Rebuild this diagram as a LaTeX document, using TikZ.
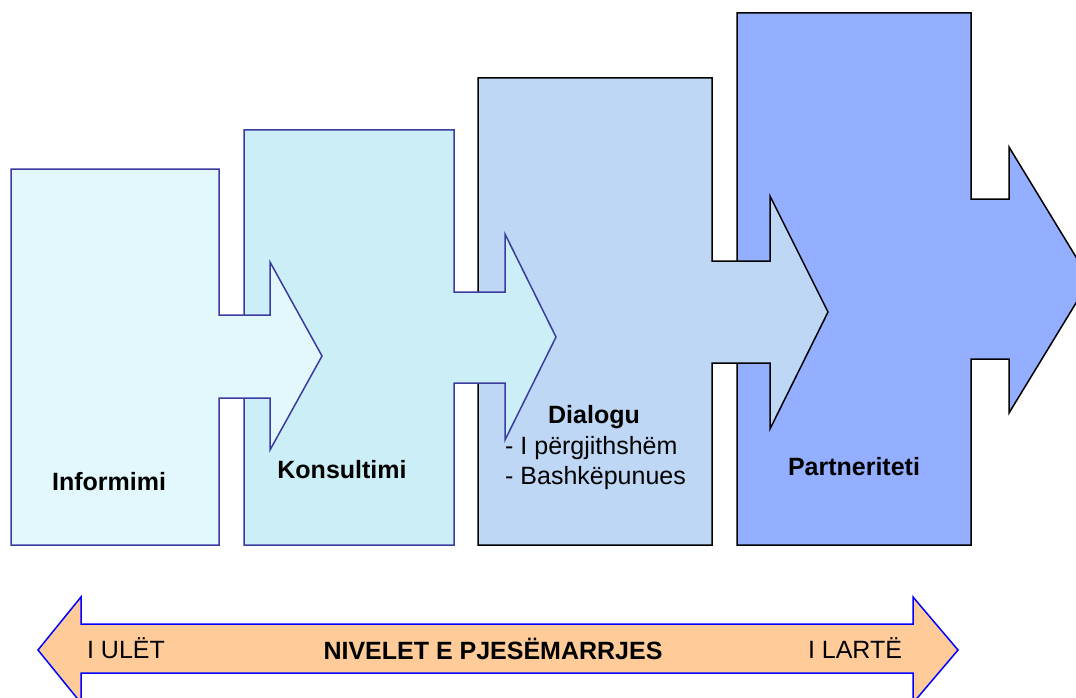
\documentclass[tikz,border=0pt]{standalone}
\usepackage{fontspec}
\setmainfont{Liberation Sans}
\definecolor{fillA}{RGB}{227,248,252}
\definecolor{fillB}{RGB}{204,238,246}
\definecolor{fillC}{RGB}{189,215,244}
\definecolor{fillD}{RGB}{148,175,255}
\definecolor{edgeBlue}{RGB}{60,60,160}
\definecolor{bandFill}{RGB}{255,204,153}
\tikzset{
  stage/.style={line width=1.5pt, line join=miter},
  lbl/.style={anchor=base, inner sep=0pt, font=\fontsize{25}{30}\selectfont},
  blbl/.style={lbl, font=\fontsize{25}{30}\selectfont\bfseries},
  band/.style={fill=bandFill, draw=blue, line width=1.5pt}
}
\begin{document}
\begin{tikzpicture}[x=1pt,y=-1pt]
\useasboundingbox (0,0) rectangle (1076,698);
\clip (0,0) rectangle (1076,698);
% stage 4
\draw[stage, fill=fillD, draw=black] (737,13) -- (971,13) -- (971,199) -- (1009,199) -- (1009,147) -- (1090,280) -- (1009,413) -- (1009,359) -- (971,359) -- (971,545) -- (737,545) -- cycle;
% stage 3
\draw[stage, fill=fillC, draw=black] (478,78) -- (712,78) -- (712,261) -- (770,261) -- (770,196) -- (828,312) -- (770,429) -- (770,363) -- (712,363) -- (712,545) -- (478,545) -- cycle;
% stage 2
\draw[stage, fill=fillB, draw=edgeBlue] (244,130) -- (454,130) -- (454,292) -- (505,292) -- (505,234) -- (556,337) -- (505,440) -- (505,383) -- (454,383) -- (454,545) -- (244,545) -- cycle;
% stage 1
\draw[stage, fill=fillA, draw=edgeBlue] (11,169) -- (219,169) -- (219,315) -- (270,315) -- (270,262) -- (322,356) -- (270,450) -- (270,398) -- (219,398) -- (219,545) -- (11,545) -- cycle;
% texts
\node[blbl] (t1) at (109,490) {Informimi};
\node[blbl] (t2) at (342,478) {Konsultimi};
\node[blbl] (t3) at (594,423) {Dialogu};
\node[lbl, anchor=base west] (t3a) at (505,454) {- I përgjithshëm};
\node[lbl, anchor=base west] (t3b) at (505,484) {- Bashkëpunues};
\node[blbl] (t4) at (854,475) {Partneriteti};
% bottom band
\draw[band] (38,650) -- (81,597) -- (81,624) -- (913,624) -- (913,597) -- (958,650) -- (913,703) -- (913,673) -- (81,673) -- (81,703) -- cycle;
\node[lbl] (low) at (126,658) {I ULËT};
\node[blbl] (mid) at (493,659) {NIVELET E PJESËMARRJES};
\node[lbl] (high) at (855,658) {I LARTË};
\end{tikzpicture}
\end{document}
